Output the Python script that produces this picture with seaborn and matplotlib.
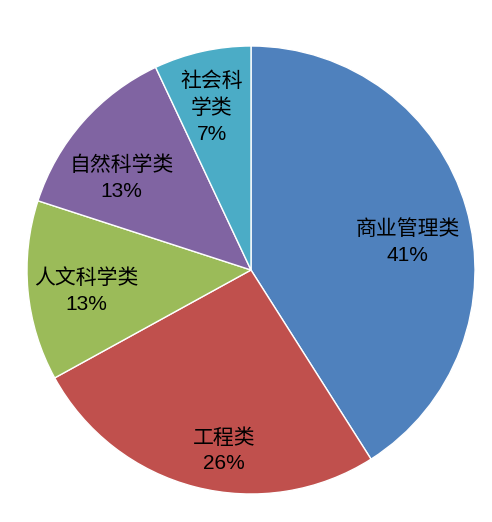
import numpy as np
import matplotlib.pyplot as plt
import seaborn as sns

# 数据
categories = ['商业管理类', '工程类', '人文科学类', '自然科学类', '社会科\n学类']
shares = [41, 26, 13, 13, 7]
colors = ['#4F81BD', '#C0504D', '#9BBB59', '#8064A2', '#4BACC6']

sns.set_theme(style='white')
plt.rcParams['font.family'] = ['Liberation Sans', 'Noto Sans CJK SC', 'DejaVu Sans']

fig = plt.figure(figsize=(4.92, 5.22), dpi=100)
ax = fig.add_axes([27 / 492, 28 / 522, 448 / 492, 448 / 522])

wedges, _ = ax.pie(shares, colors=colors, startangle=90, counterclock=False,
                   wedgeprops=dict(edgecolor='white', linewidth=1.0))

# 标签位置：相对半径与角度偏移
label_r = [0.71, 0.815, 0.74, 0.71, 0.745]
label_shift = [-6, 6, 2, 6, 1]
for w, cat, val, r, d in zip(wedges, categories, shares, label_r, label_shift):
    ang = np.deg2rad((w.theta1 + w.theta2) / 2 + d)
    ax.text(r * np.cos(ang), r * np.sin(ang), f'{cat}\n{val}%',
            ha='center', va='center', fontsize=15, color='black',
            linespacing=1.45)

ax.set_xlim(-1, 1)
ax.set_ylim(-1, 1)
ax.set_aspect('equal')
ax.axis('off')

fig.savefig('out.png', dpi=100)
